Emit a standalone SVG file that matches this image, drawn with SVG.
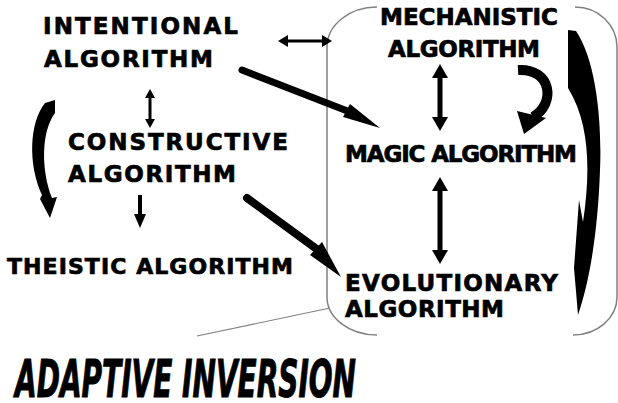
<svg xmlns="http://www.w3.org/2000/svg" width="618" height="403" viewBox="0 0 618 403">
<style>
.t{font-family:"DejaVu Sans","Liberation Sans",sans-serif;font-weight:bold;font-size:23px;fill:#000;stroke:#000;stroke-width:0.7}
.big{font-family:"Liberation Sans Narrow","DejaVu Sans Condensed","Liberation Sans",sans-serif;font-weight:bold;font-style:italic;font-size:52px;fill:#000;stroke:#000;stroke-width:1}
.box{fill:none;stroke:#808080;stroke-width:1.5}
.thin{fill:none;stroke:#808080;stroke-width:1.2}
.sh{stroke:#000;fill:none}
.f{fill:#000;stroke:none}
</style>
<rect width="618" height="403" fill="#fff"/>
<g id="frame">
<path class="box" d="M377,7 A50,40 0 0 0 327,47 L327,297 A50,38 0 0 0 377,335"/>
<path class="box" d="M575,7 A42,40 0 0 1 617,47 L617,297 A44,38 0 0 1 573,335"/>
</g>
<g id="connectors">
<line class="thin" x1="197" y1="336" x2="330" y2="308"/>
<line class="sh" x1="284" y1="41" x2="326" y2="41" stroke-width="3"/>
<polygon class="f" points="278,41 288,35 288,47"/>
<polygon class="f" points="332,41 322,35 322,47"/>
<line class="sh" x1="242" y1="70" x2="350" y2="112" stroke-width="7" stroke-linecap="round"/>
<polygon class="f" points="380,128 343,117 350,104"/>
<line class="sh" x1="150" y1="95" x2="150" y2="122" stroke-width="3"/>
<polygon class="f" points="150,89 145,98 155,98"/>
<polygon class="f" points="150,128 145,119 155,119"/>
<line class="sh" x1="140" y1="195" x2="140" y2="216" stroke-width="4"/>
<polygon class="f" points="140,228 134,214 146,214"/>
<line class="sh" x1="247" y1="198" x2="318" y2="250" stroke-width="8" stroke-linecap="round"/>
<polygon class="f" points="341,277 310,255 322,242"/>
<line class="sh" x1="440" y1="74" x2="440" y2="121" stroke-width="5"/>
<polygon class="f" points="440,64 432,78 448,78"/>
<polygon class="f" points="440,131 432,117 448,117"/>
<line class="sh" x1="440" y1="188" x2="440" y2="253" stroke-width="5"/>
<polygon class="f" points="440,177 432,191 448,191"/>
<polygon class="f" points="440,264 432,250 448,250"/>
<path class="sh" d="M518,70 C552,68 556,104 533,117" stroke-width="10"/>
<polygon class="f" points="524,134 517,111 546,118"/>
<path class="f" d="M568,30 L576,31 C597,62 602,125 600,170 C598,230 590,280 578,315 L574,268 L579,200 L583,222 C590,175 591,125 568,88 Z"/>
<path class="f" d="M55,100 L45,103 C29,123 28,165 42,195 L40,199 L50,218 L57,197 L52,198 C41,170 41,132 55,113 Z"/>
</g>
<g id="intentional"><text class="t" x="43" y="34" textLength="195" lengthAdjust="spacing">INTENTIONAL</text><text class="t" x="44" y="67" textLength="169" lengthAdjust="spacing">ALGORITHM</text></g>
<g id="constructive"><text class="t" x="68" y="150" textLength="220" lengthAdjust="spacing">CONSTRUCTIVE</text><text class="t" x="68" y="182" textLength="168" lengthAdjust="spacing">ALGORITHM</text></g>
<g id="theistic"><text class="t" x="7" y="274" style="font-size:22px" textLength="286" lengthAdjust="spacing">THEISTIC ALGORITHM</text></g>
<g id="mechanistic"><text class="t" x="380" y="25" textLength="178" lengthAdjust="spacing">MECHANISTIC</text><text class="t" x="388" y="57" textLength="152" lengthAdjust="spacing">ALGORITHM</text></g>
<g id="magic"><text class="t" x="345" y="162" textLength="232" lengthAdjust="spacing">MAGIC ALGORITHM</text></g>
<g id="evolutionary"><text class="t" x="345" y="291" textLength="213" lengthAdjust="spacing">EVOLUTIONARY</text><text class="t" x="345" y="317" textLength="159" lengthAdjust="spacing">ALGORITHM</text></g>
<g id="title"><text class="big" x="15" y="397" textLength="341" lengthAdjust="spacingAndGlyphs">ADAPTIVE INVERSION</text></g>
</svg>
